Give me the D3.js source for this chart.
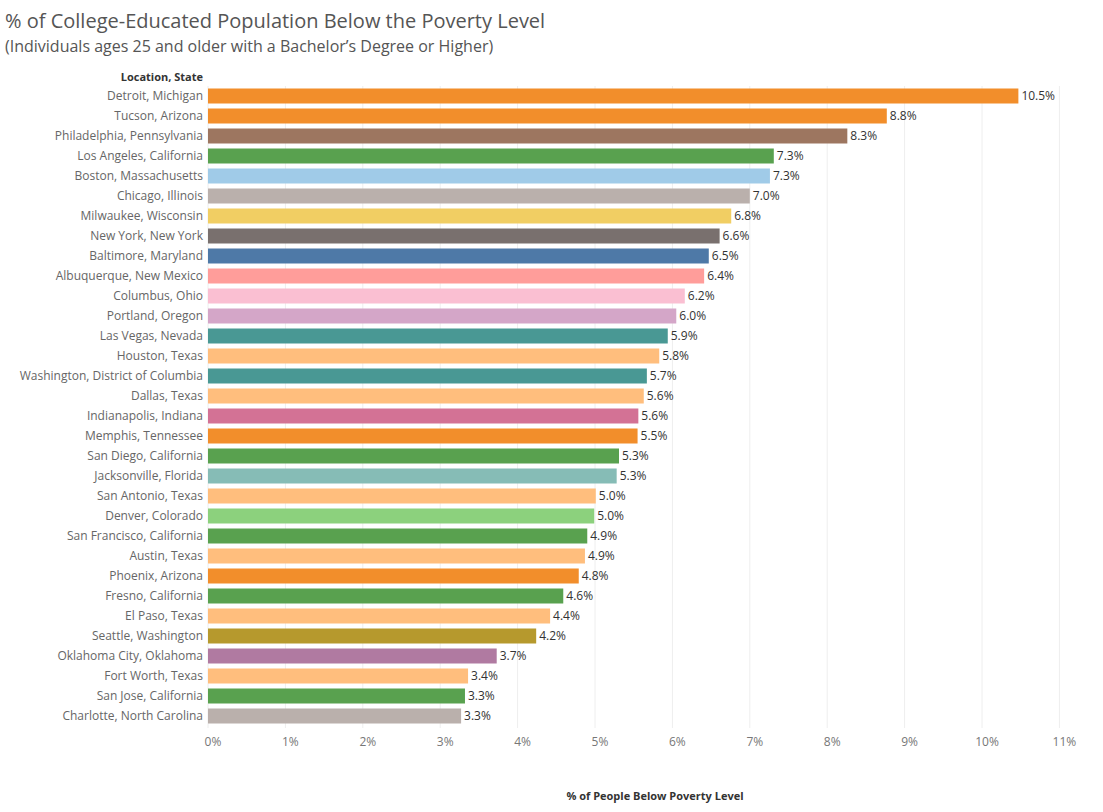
<!DOCTYPE html>
<html><head><meta charset="utf-8">
<script src="https://cdn.jsdelivr.net/npm/d3@7"></script>
<style>body{margin:0;background:#fff;font-family:"Open Sans",Lato,sans-serif}</style>
</head><body><svg id="c" width="1103" height="812"></svg>
<script>
const cities=["Detroit, Michigan","Tucson, Arizona","Philadelphia, Pennsylvania","Los Angeles, California","Boston, Massachusetts","Chicago, Illinois","Milwaukee, Wisconsin","New York, New York","Baltimore, Maryland","Albuquerque, New Mexico","Columbus, Ohio","Portland, Oregon","Las Vegas, Nevada","Houston, Texas","Washington, District of Columbia","Dallas, Texas","Indianapolis, Indiana","Memphis, Tennessee","San Diego, California","Jacksonville, Florida","San Antonio, Texas","Denver, Colorado","San Francisco, California","Austin, Texas","Phoenix, Arizona","Fresno, California","El Paso, Texas","Seattle, Washington","Oklahoma City, Oklahoma","Fort Worth, Texas","San Jose, California","Charlotte, North Carolina"];
const values=[10.47,8.77,8.26,7.31,7.26,7.0,6.76,6.61,6.47,6.41,6.16,6.05,5.94,5.83,5.67,5.63,5.56,5.55,5.31,5.28,5.01,4.99,4.9,4.87,4.79,4.59,4.42,4.24,3.73,3.36,3.32,3.27];
const colors=["#F28E2B","#F28E2B","#9D7660","#59A14F","#A0CBE8","#BAB0AC","#F1CE63","#79706E","#4E79A7","#FF9D9A","#FABFD2","#D4A6C8","#499894","#FFBE7D","#499894","#FFBE7D","#D37295","#F28E2B","#59A14F","#86BCB6","#FFBE7D","#8CD17D","#59A14F","#FFBE7D","#F28E2B","#59A14F","#FFBE7D","#B6992D","#B07AA1","#FFBE7D","#59A14F","#BAB0AC"];
const ticks=[0,1,2,3,4,5,6,7,8,9,10,11];
const svg=d3.select("#c");
const x=d3.scaleLinear().domain([0,11]).range([208,1059.4]);
const y=d3.scaleBand().domain(cities).range([86,726]).paddingInner(0.25).paddingOuter(0.125);
svg.append("text").attr("x",5).attr("y",28).attr("font-size",20).attr("fill","#555").text("% of College-Educated Population Below the Poverty Level");
svg.append("text").attr("x",5).attr("y",52).attr("font-size",16).attr("fill","#555").text("(Individuals ages 25 and older with a Bachelor\u2019s Degree or Higher)");
svg.append("text").attr("x",203).attr("y",81).attr("text-anchor","end").attr("font-size",11).attr("font-weight","bold").attr("fill","#333").text("Location, State");
svg.append("g").selectAll("line").data(ticks).join("line").attr("x1",d=>x(d)).attr("x2",d=>x(d)).attr("y1",86).attr("y2",728).attr("stroke","#eee");
svg.append("g").selectAll("rect").data(cities).join("rect").attr("x",x(0)).attr("y",d=>y(d)).attr("height",y.bandwidth()).attr("width",(d,i)=>x(values[i])-x(0)).attr("fill",(d,i)=>colors[i]);
svg.append("g").selectAll("text").data(cities).join("text").attr("x",203).attr("y",d=>y(d)+y.bandwidth()/2+4).attr("text-anchor","end").attr("font-size",12).attr("fill","#666").text(d=>d.replace(", ",",  "));
svg.append("g").selectAll("text").data(cities).join("text").attr("x",(d,i)=>x(values[i])+3).attr("y",d=>y(d)+y.bandwidth()/2+4).attr("font-size",12).attr("fill","#333").text((d,i)=>values[i].toFixed(1)+"%");
svg.append("g").selectAll("text").data(ticks).join("text").attr("x",d=>x(d)+5).attr("y",746).attr("text-anchor","middle").attr("font-size",12).attr("fill","#777").text(d=>d+"%");
svg.append("text").attr("x",655).attr("y",800).attr("text-anchor","middle").attr("font-size",11).attr("font-weight","bold").attr("fill","#333").text("% of People Below Poverty Level");
</script></body></html>
